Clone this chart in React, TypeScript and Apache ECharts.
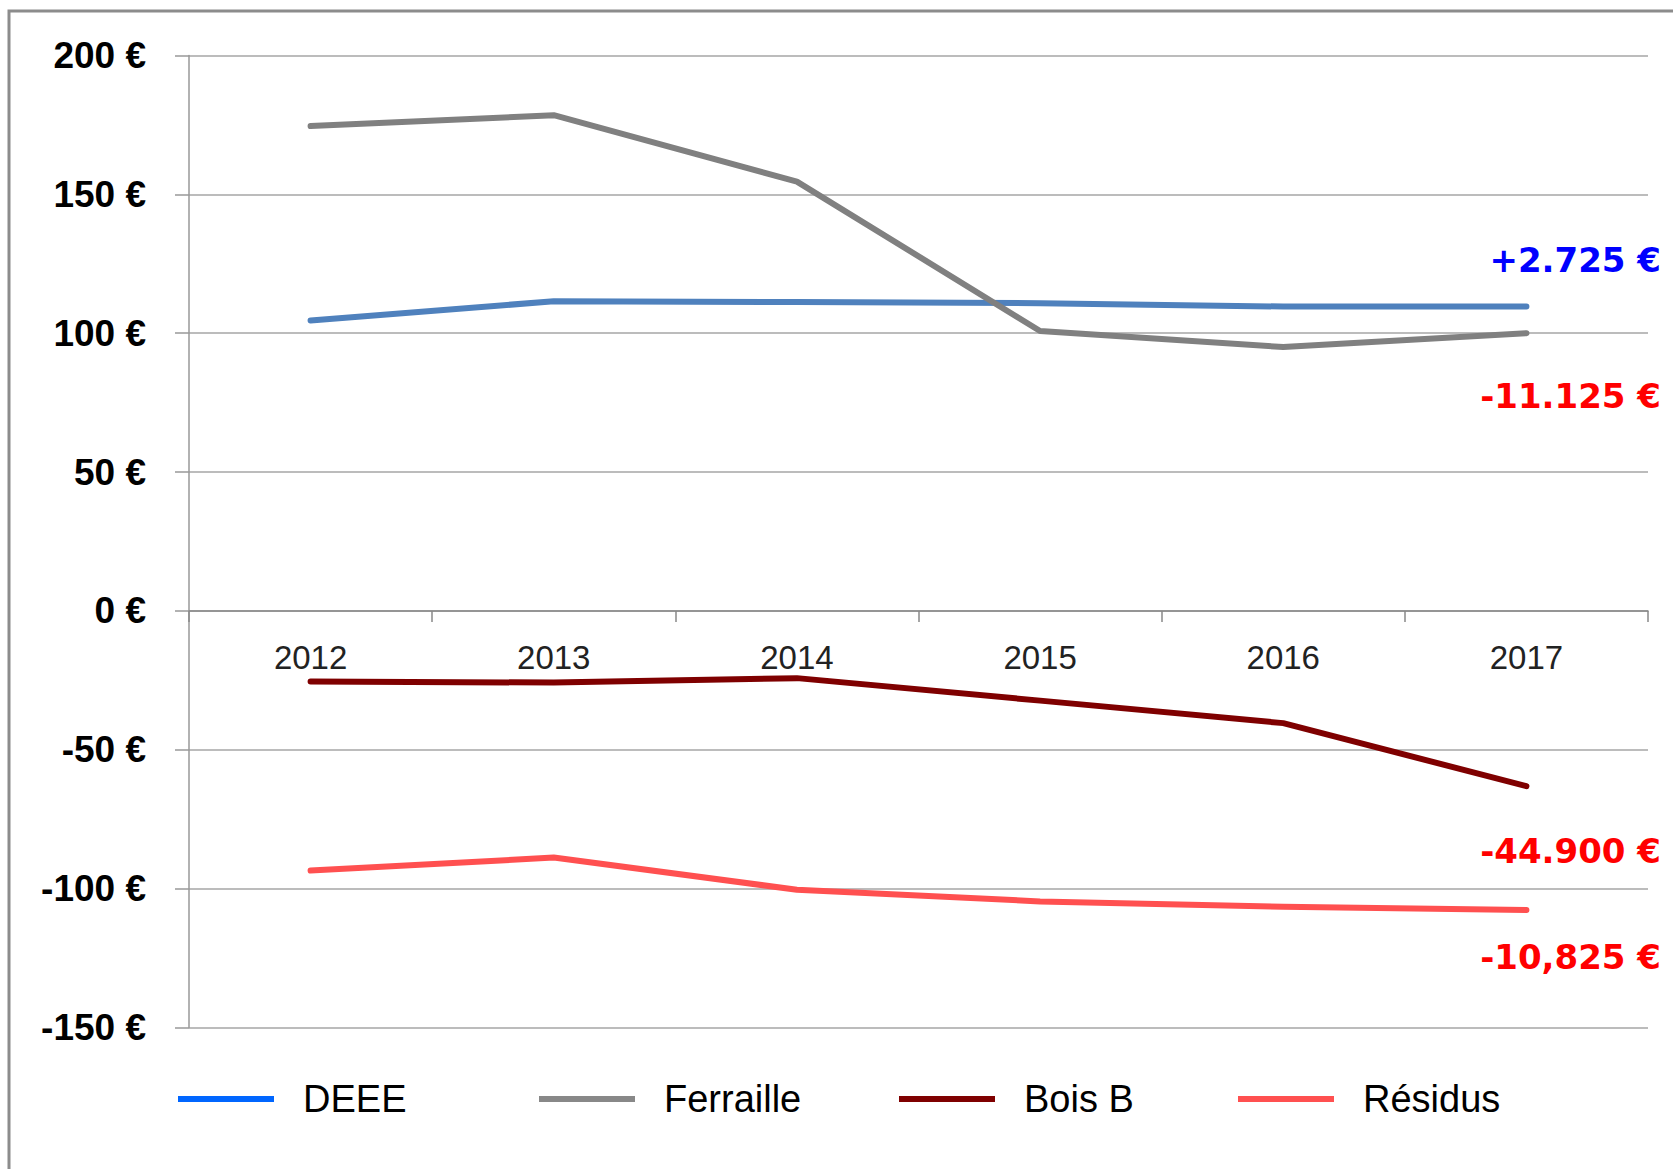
import React, { useEffect, useRef } from "react";
import * as echarts from "echarts";

const years = ["2012", "2013", "2014", "2015", "2016", "2017"];
const deee = [104.6, 111.5, 111.2, 110.8, 109.6, 109.6];
const ferraille = [174.6, 178.5, 154.6, 100.8, 95.0, 100.0];
const boisB = [-25.4, -25.8, -24.2, -32.3, -40.4, -63.1];
const residus = [-93.5, -88.8, -100.4, -104.6, -106.5, -107.7];

const seriesNames = ["DEEE", "Ferraille", "Bois B", "Résidus"];
const lineColors = ["#4F81BD", "#808080", "#7F0000", "#FF5050"];
const legendColors = ["#0066FF", "#888888", "#7F0000", "#FF5050"];
const legendLeft = [173, 534, 894, 1233];

const annotations = [
  { text: "+2.725 €", color: "#0000FF", y: 263 },
  { text: "-11.125 €", color: "#FF0000", y: 399 },
  { text: "-44.900 €", color: "#FF0000", y: 854 },
  { text: "-10,825 €", color: "#FF0000", y: 960 },
];

const Y_MIN = -150;
const Y_MAX = 200;
const GRID_TOP = 55.5;
const GRID_BOTTOM = 141.5;
const CHART_H = 1169;

export default function App() {
  const ref = useRef<HTMLDivElement>(null);
  useEffect(() => {
    document.body.style.margin = "0";
    if (!ref.current) return;
    const chart = echarts.init(ref.current, null, { renderer: "svg" });
    const dataSets = [deee, ferraille, boisB, residus];
    const plotH = CHART_H - GRID_TOP - GRID_BOTTOM;
    const zeroOffset = -(plotH * (0 - Y_MIN)) / (Y_MAX - Y_MIN);
    chart.setOption({
      animation: false,
      backgroundColor: "#ffffff",
      grid: { left: 189, right: 25, top: GRID_TOP, bottom: GRID_BOTTOM, containLabel: false },
      xAxis: {
        type: "category",
        data: years,
        boundaryGap: true,
        position: "bottom",
        offset: zeroOffset,
        axisLine: { onZero: false, lineStyle: { color: "#888888", width: 1.5 } },
        axisTick: { show: true, length: 11, lineStyle: { color: "#888888", width: 1.5 } },
        axisLabel: {
          margin: 30,
          color: "#222222",
          fontSize: 33,
          fontFamily: "Liberation Sans",
        },
        splitLine: { show: false },
      },
      yAxis: {
        type: "value",
        min: Y_MIN,
        max: Y_MAX,
        interval: 50,
        axisLine: { show: true, lineStyle: { color: "#999999", width: 1.5 } },
        axisTick: { show: true, length: 14, lineStyle: { color: "#999999", width: 1.5 } },
        axisLabel: {
          formatter: (v: number) => `${v} €`,
          color: "#000000",
          fontSize: 37,
          fontWeight: "bold",
          fontFamily: "Liberation Sans",
          margin: 43,
        },
        splitLine: { show: true, lineStyle: { color: "#A6A6A6", width: 1.5 } },
      },
      legend: seriesNames.map((name, i) => ({
        left: legendLeft[i],
        top: 1075,
        icon: "rect",
        itemWidth: 96,
        itemHeight: 6,
        data: [{ name, itemStyle: { color: legendColors[i] } }],
        textStyle: {
          fontSize: 38,
          color: "#000000",
          fontFamily: "Liberation Sans",
          padding: [0, 0, 0, 24],
        },
      })),
      series: seriesNames.map((name, i) => ({
        name,
        type: "line",
        data: dataSets[i],
        symbol: "none",
        lineStyle: { color: lineColors[i], width: 6, cap: "round", join: "round" },
        itemStyle: { color: legendColors[i] },
        z: 3,
      })),
      graphic: [
        {
          type: "rect",
          shape: { x: 9, y: 11, width: 1700, height: 1200 },
          style: { fill: "none", stroke: "#8C8C8C", lineWidth: 3 },
          z: 10,
        },
        ...annotations.map((a) => ({
          type: "text",
          right: 12,
          top: a.y - 20,
          style: {
            text: a.text,
            fill: a.color,
            fontSize: 34,
            fontWeight: "bold",
            fontFamily: "Comic Sans MS, DejaVu Sans",
          },
          z: 10,
        })),
      ],
    });
    return () => chart.dispose();
  }, []);
  return <div ref={ref} style={{ width: 1673, height: 1169 }} />;
}
